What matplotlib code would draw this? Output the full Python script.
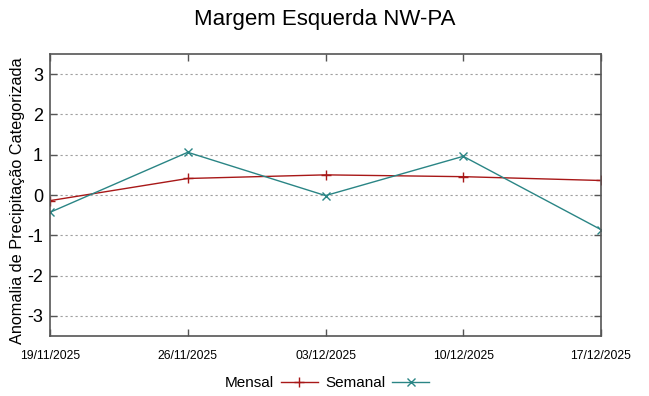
import matplotlib
matplotlib.use("Agg")
import matplotlib.pyplot as plt
from matplotlib.lines import Line2D
import datetime as dt

dates = ["19/11/2025", "26/11/2025", "03/12/2025", "10/12/2025", "17/12/2025"]
mensal = [-0.14, 0.41, 0.50, 0.455, 0.36]
semanal = [-0.43, 1.06, -0.015, 0.96, -0.86]
yticks = [-3, -2, -1, 0, 1, 2, 3]

x = [dt.datetime.strptime(d, "%d/%m/%Y") for d in dates]

plt.rcParams['font.family'] = ['Liberation Sans', 'DejaVu Sans']

W, H = 649, 396
fig = plt.figure(figsize=(W/100, H/100), dpi=100)
ax = fig.add_axes([50/W, 1-336/H, 551/W, 282/H])

red = "#a81818"
teal = "#2a8585"
ax.plot(x, mensal, color=red, lw=1.0, marker="+", ms=7, mew=1.0, label="Mensal")
ax.plot(x, semanal, color=teal, lw=1.0, marker="x", ms=5.5, mew=1.0, label="Semanal")

ax.set_xlim(x[0], x[-1])
ax.set_ylim(-3.5, 3.5)
ax.set_yticks(yticks)
ax.set_yticklabels([str(t) for t in yticks], fontsize=13)
ax.set_xticks(x)
ax.set_xticklabels(dates, fontsize=8.8)

ax.grid(axis="y", color="#a0a0a0", linestyle=(0, (2, 2.5)), lw=0.8)
ax.tick_params(direction="in", top=True, right=True, length=5, width=1, color="#555555")
ax.tick_params(axis="y", pad=5)
ax.tick_params(axis="x", pad=10)
for s in ax.spines.values():
    s.set_color("#555555")
    s.set_linewidth(1.2)

fig.text(0.5, 1-20/H, "Margem Esquerda NW-PA", ha="center", va="center", fontsize=16)
fig.text(18/W, 1-201/H, "Anomalia de Precipitação Categorizada", rotation=90,
         ha="center", va="center", fontsize=11.7)

handles = [Line2D([], [], color=red, lw=1.0, marker="+", ms=7, mew=1.0),
           Line2D([], [], color=teal, lw=1.0, marker="x", ms=5.5, mew=1.0)]
fig.legend(handles, ["Mensal", "Semanal"], loc="center", bbox_to_anchor=(327/W, 1-383/H),
           ncol=2, frameon=False, markerfirst=False, fontsize=11, handlelength=2.4,
           handletextpad=0.45, columnspacing=0.5)

fig.savefig("out.png", dpi=100)
